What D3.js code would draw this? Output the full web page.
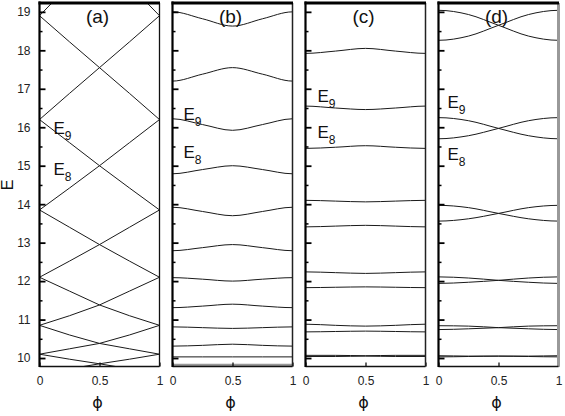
<!DOCTYPE html>
<html>
<head>
<meta charset="utf-8">
<script src="https://cdn.jsdelivr.net/npm/d3@7"></script>
<style>
	body { margin: 0; background: #fff; }
	svg { display: block; background: #fff; font-family: "Liberation Sans", Arial, sans-serif; }
</style>
</head>
<body>
<svg width="565" height="416"></svg>
<script>
// @ Data
const phi = [0, 0.25, 0.5, 0.75, 1];
const panelNames = ["(a)", "(b)", "(c)", "(d)"];
const xTickValues = [0, 0.5, 1];
const yTickValues = [10, 11, 12, 13, 14, 15, 16, 17, 18, 19];
const yMinorValues = [10.5, 11.5, 12.5, 13.5, 14.5, 15.5, 16.5, 17.5, 18.5];
const levelNames = ["E9", "E8"];

// E at phi = 0, 0.25, 0.5, 0.75, 1
const bandsA = [
	[22.0, 21.2, 20.45, 19.7, 18.9],
	[18.9, 19.7, 20.45, 21.2, 22.0],
	[18.9, 18.22, 17.55, 16.88, 16.2],
	[16.2, 16.88, 17.55, 18.22, 18.9],
	[16.2, 15.6, 15.0, 14.42, 13.85],
	[13.85, 14.42, 15.0, 15.6, 16.2],
	[13.85, 13.4, 12.95, 12.52, 12.1],
	[12.1, 12.52, 12.95, 13.4, 13.85],
	[12.1, 11.74, 11.38, 11.1, 10.85],
	[10.85, 11.1, 11.38, 11.74, 12.1],
	[10.85, 10.6, 10.38, 10.24, 10.1],
	[10.1, 10.24, 10.38, 10.6, 10.85],
	[10.1, 9.97, 9.85, 9.72, 9.6],
	[9.6, 9.72, 9.85, 9.97, 10.1],
];
const bandsB = [
	[19.0, 18.82, 18.63, 18.82, 19.0],
	[17.2, 17.38, 17.55, 17.38, 17.2],
	[16.22, 16.07, 15.92, 16.07, 16.22],
	[14.79, 14.9, 15.0, 14.9, 14.79],
	[13.92, 13.81, 13.7, 13.81, 13.92],
	[12.79, 12.87, 12.95, 12.87, 12.79],
	[12.09, 12.05, 12.0, 12.05, 12.09],
	[11.31, 11.35, 11.4, 11.35, 11.31],
	[10.81, 10.79, 10.77, 10.79, 10.81],
	[10.31, 10.33, 10.36, 10.33, 10.31],
	[10.03, 10.03, 10.03, 10.03, 10.03],
];
const greyBandsB = [[9.82, 9.82, 9.82, 9.82, 9.82]];
const bandsC = [
	[17.92, 17.98, 18.05, 17.98, 17.92],
	[16.55, 16.5, 16.46, 16.5, 16.55],
	[15.45, 15.48, 15.52, 15.48, 15.45],
	[14.1, 14.08, 14.06, 14.08, 14.1],
	[13.41, 13.43, 13.45, 13.43, 13.41],
	[12.24, 12.22, 12.2, 12.22, 12.24],
	[11.83, 11.84, 11.85, 11.84, 11.83],
	[10.88, 10.85, 10.83, 10.85, 10.88],
	[10.68, 10.69, 10.7, 10.69, 10.68],
	[10.07, 10.07, 10.06, 10.07, 10.07],
	[10.04, 10.04, 10.05, 10.04, 10.04],
];
const bandsD = [
	[19.04, 18.93, 18.65, 18.37, 18.26],
	[18.26, 18.37, 18.65, 18.93, 19.04],
	[16.25, 16.17, 15.97, 15.78, 15.7],
	[15.7, 15.78, 15.97, 16.17, 16.25],
	[13.97, 13.91, 13.76, 13.62, 13.56],
	[13.56, 13.62, 13.76, 13.91, 13.97],
	[12.11, 12.08, 12.02, 11.97, 11.94],
	[11.94, 11.97, 12.02, 12.08, 12.11],
	[10.84, 10.83, 10.79, 10.76, 10.74],
	[10.74, 10.76, 10.79, 10.83, 10.84],
	[10.06, 10.05, 10.05, 10.04, 10.03],
	[10.03, 10.04, 10.05, 10.05, 10.06],
];

// @ Layout
const panelW = 120;
const panelStep = 133;
const left0 = 39.5;
const plotTop = 3;
const plotBottom = 366.5;

const y = d3.scaleLinear().domain([9.78, 19.23]).range([plotBottom, plotTop]);

const panels = [
	{ bands: bandsA, grey: [], curve: d3.curveLinear, rightColor: "#111", rightW: 1.3, labels: [[14, 15.83], [14, 14.76]] },
	{ bands: bandsB, grey: greyBandsB, curve: d3.curveMonotoneX, rightColor: "#222", rightW: 1.5, labels: [[11, 16.19], [11, 15.2]] },
	{ bands: bandsC, grey: [], curve: d3.curveMonotoneX, rightColor: "#222", rightW: 1.5, labels: [[12, 16.66], [12, 15.71]] },
	{ bands: bandsD, grey: [], curve: d3.curveMonotoneX, rightColor: "#999", rightW: 3, labels: [[9, 16.5], [9, 15.15]] },
];

const svg = d3.select("svg");

// mirror one step past each end so the curve is flat at phi = 0 and 1
const bandPoints = (d) => {
	const pts = phi.map((f, i) => [f, d[i]]);
	return [[-phi[1], d[1]], ...pts, [2 - phi[3], d[3]]];
};

panels.forEach((p, i) => {
	const x0 = left0 + i * panelStep;
	const x = d3.scaleLinear().domain([0, 1]).range([x0, x0 + panelW]);
	const g = svg.append("g");

	g.append("clipPath")
		.attr("id", `clip${i}`)
		.append("rect")
		.attr("x", x0)
		.attr("y", plotTop)
		.attr("width", panelW)
		.attr("height", plotBottom - plotTop);

	const line = d3
		.line()
		.x((d) => x(d[0]))
		.y((d) => y(d[1]))
		.curve(p.curve);

	const bandsG = g.append("g").attr("clip-path", `url(#clip${i})`);

	bandsG
		.selectAll("path.grey")
		.data(p.grey)
		.enter()
		.append("path")
		.attr("class", "grey")
		.attr("d", (d) => line(bandPoints(d)))
		.attr("fill", "none")
		.attr("stroke", "#999")
		.attr("stroke-width", 2.5);

	bandsG
		.selectAll("path.band")
		.data(p.bands)
		.enter()
		.append("path")
		.attr("class", "band")
		.attr("d", (d) => line(bandPoints(d)))
		.attr("fill", "none")
		.attr("stroke", "#1a1a1a")
		.attr("stroke-width", 1);

	// y ticks (inward)
	const yAxis = g
		.append("g")
		.attr("transform", `translate(${x0},0)`)
		.call(
			d3
				.axisLeft(y)
				.tickValues(yTickValues)
				.tickSize(-6)
				.tickPadding(9)
				.tickFormat(i === 0 ? d3.format("d") : "")
		);
	yAxis.select(".domain").remove();
	yAxis.selectAll("line").attr("stroke", "#000").attr("stroke-width", 1.8);
	yAxis
		.selectAll("text")
		.attr("fill", "#222")
		.style("font-size", "12px")
		.style("font-family", '"Liberation Sans", Arial, sans-serif');

	const yMinor = g
		.append("g")
		.attr("transform", `translate(${x0},0)`)
		.call(d3.axisLeft(y).tickValues(yMinorValues).tickSize(-3).tickFormat(""));
	yMinor.select(".domain").remove();
	yMinor.selectAll("line").attr("stroke", "#000").attr("stroke-width", 1.5);

	// x ticks
	const xAxis = g
		.append("g")
		.attr("transform", `translate(0,${plotBottom})`)
		.call(
			d3
				.axisBottom(x)
				.tickValues(xTickValues)
				.tickSize(-4)
				.tickPadding(10)
				.tickFormat(d3.format("~g"))
		);
	xAxis.select(".domain").remove();
	xAxis.selectAll("line").attr("stroke", "#000").attr("stroke-width", 1.2);
	xAxis
		.selectAll("text")
		.attr("fill", "#222")
		.style("font-size", "12px")
		.style("font-family", '"Liberation Sans", Arial, sans-serif');

	// frame
	g.append("line")
		.attr("x1", x0 + panelW)
		.attr("x2", x0 + panelW)
		.attr("y1", plotTop)
		.attr("y2", plotBottom)
		.attr("stroke", p.rightColor)
		.attr("stroke-width", p.rightW);
	g.append("line")
		.attr("x1", x0)
		.attr("x2", x0 + panelW)
		.attr("y1", plotBottom)
		.attr("y2", plotBottom)
		.attr("stroke", "#111")
		.attr("stroke-width", 1.5);
	g.append("line")
		.attr("x1", x0)
		.attr("x2", x0)
		.attr("y1", plotTop - 1.5)
		.attr("y2", plotBottom + 0.5)
		.attr("stroke", "#000")
		.attr("stroke-width", 2.2);
	g.append("line")
		.attr("x1", x0 - 1)
		.attr("x2", x0 + panelW + 0.5)
		.attr("y1", plotTop)
		.attr("y2", plotTop)
		.attr("stroke", "#000")
		.attr("stroke-width", 3);

	// panel name
	g.append("text")
		.attr("x", x0 + panelW / 2 - 2)
		.attr("y", 23)
		.attr("text-anchor", "middle")
		.style("font-size", "19px")
		.attr("fill", "#111")
		.text(panelNames[i]);

	// E9 / E8
	p.labels.forEach((lab, k) => {
		const t = g
			.append("text")
			.attr("x", x0 + lab[0])
			.attr("y", y(lab[1]))
			.style("font-size", "17px")
			.attr("fill", "#111")
			.text(levelNames[k][0]);
		t.append("tspan")
			.attr("dy", 6)
			.style("font-size", "12px")
			.text(levelNames[k].slice(1));
	});

	// phi label
	g.append("text")
		.attr("x", x0 + panelW / 2 - 2)
		.attr("y", 408)
		.attr("text-anchor", "middle")
		.style("font-size", "16px")
		.style("font-family", '"DejaVu Sans", sans-serif')
		.attr("fill", "#111")
		.text("ϕ");
});

// E axis title
svg.append("text")
	.attr("transform", "translate(13,185)rotate(-90)")
	.attr("text-anchor", "middle")
	.style("font-size", "16px")
	.attr("fill", "#111")
	.text("E");
</script>
</body>
</html>
